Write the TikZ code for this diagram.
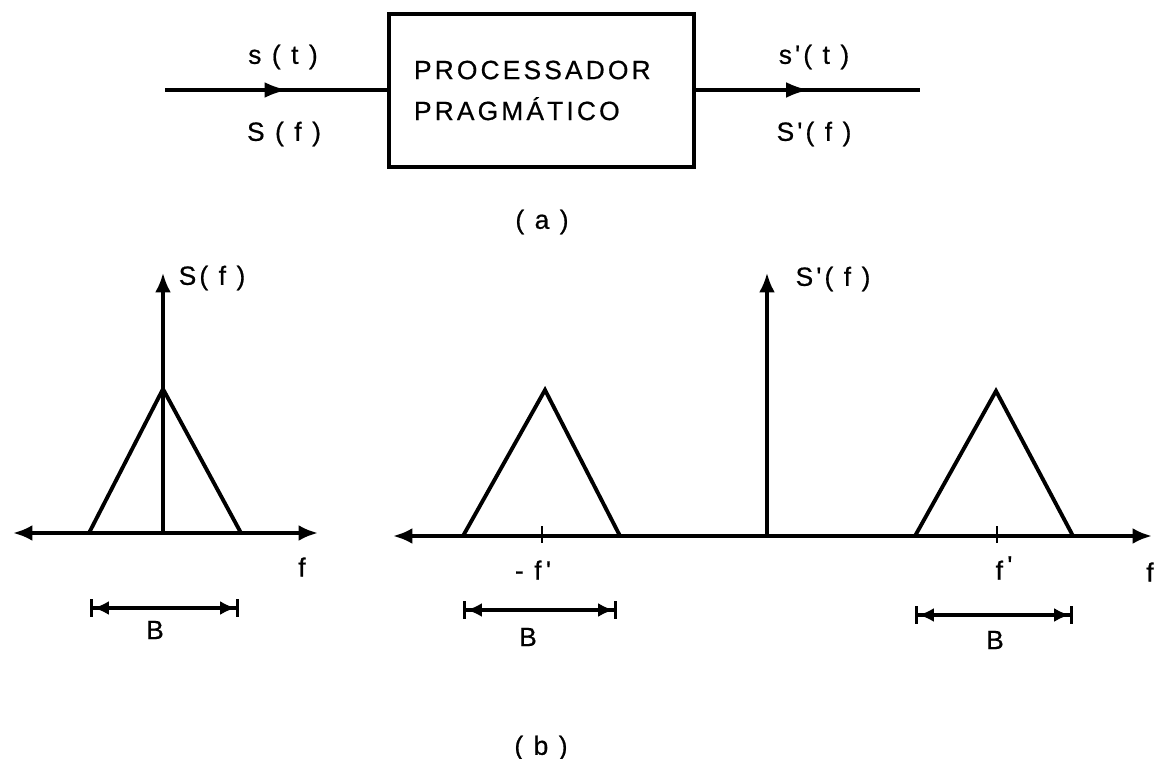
\documentclass[tikz,border=0pt]{standalone}
\usepackage{fontspec}
\setmainfont{Liberation Sans}
\newfontfamily\lettfont[LetterSpace=12,FakeBold=0.6]{Liberation Sans}
\usetikzlibrary{arrows.meta,decorations.markings}
\begin{document}
\begin{tikzpicture}[x=0.02cm,y=-0.02cm,
  lbl/.style={font=\lettfont\fontsize{15}{18}\selectfont, inner sep=0pt},
  ax/.style={line width=2.1pt, {Latex[length=11pt,width=9pt]}-{Latex[length=11pt,width=9pt]}},
  vax/.style={line width=1.8pt, -{Latex[length=11pt,width=9pt]}},
  tri/.style={line width=2.2pt, line join=miter},
  bw/.style={line width=1.8pt, {Bar[width=10pt,line width=1.8pt]Latex[length=9pt,width=8pt]}-{Latex[length=9pt,width=8pt]Bar[width=10pt,line width=1.8pt]}},
  tickmark/.style={line width=1.2pt},
  sigin/.style={line width=1.9pt, decoration={markings, mark=at position 0.55 with {\arrow{Latex[length=13pt,width=9pt]}}}, postaction={decorate}},
  sigout/.style={line width=1.9pt, decoration={markings, mark=at position 0.505 with {\arrow{Latex[length=13pt,width=9pt]}}}, postaction={decorate}},
  procbox/.style={draw, line width=1.8pt, inner xsep=0.5cm, inner ysep=0pt, text width=5.1cm, minimum height=3.06cm, align=left, font=\lettfont\fontsize{15}{23.3}\selectfont},
]
\useasboundingbox (0,0) rectangle (1158,759);

% (a) block diagram
\node[procbox] (proc) at (541.5,90.5) {PROCESSADOR\\PRAGMÁTICO};
\coordinate (in) at (165,90);
\coordinate (out) at (920,90);
\draw[sigin] (in) -- (proc.west |- in);
\draw[sigout] (proc.east |- out) -- (out);
\node[lbl] (st) at (283,57) {s ( t )};
\node[lbl] (Sf) at (284,134) {S ( f )};
\node[lbl] (spt) at (814,57) {s'( t )};
\node[lbl] (Spf) at (814,134) {S'( f )};
\node[lbl] (capa) at (542,222) {( a )};

% (b) left spectrum
\coordinate (lL) at (13,533);
\coordinate (lR) at (318,533);
\coordinate (lO) at (163,533);
\coordinate (lT) at (163,273);
\coordinate (t1a) at (89,533);
\coordinate (t1b) at (163,389);
\coordinate (t1c) at (241,533);
\draw[ax] (lL) -- (lR);
\draw[vax] (lO) -- (lT);
\draw[tri] (t1a) -- (t1b) -- (t1c);
\node[lbl] (lSf) at (212,278) {S( f )};
\node[lbl] (lf) at (302,567) {f};
\coordinate (b1a) at (90,608);
\coordinate (b1b) at (239,608);
\draw[bw] (b1a) -- (b1b);
\node[lbl] (lB) at (155,630) {B};

% (b) right spectrum
\coordinate (rL) at (393,536);
\coordinate (rR) at (1152,536);
\coordinate (rO) at (767,536);
\coordinate (rT) at (767,273);
\draw[ax] (rL) -- (rR);
\draw[vax] (rO) -- (rT);
\node[lbl] (rSf) at (833,279) {S'( f )};
\coordinate (t2a) at (463,536);
\coordinate (t2b) at (545,390);
\coordinate (t2c) at (620,536);
\draw[tri] (t2a) -- (t2b) -- (t2c);
\coordinate (k2a) at (542,526);
\coordinate (k2b) at (542,543);
\draw[tickmark] (k2a) -- (k2b);
\node[lbl] (mfp) at (533,570) {- f\,'};
\coordinate (b2a) at (463,610);
\coordinate (b2b) at (617,610);
\draw[bw] (b2a) -- (b2b);
\node[lbl] (mB) at (528,637) {B};
\coordinate (t3a) at (915,536);
\coordinate (t3b) at (996,391);
\coordinate (t3c) at (1073,536);
\draw[tri] (t3a) -- (t3b) -- (t3c);
\coordinate (k3a) at (997,526);
\coordinate (k3b) at (997,543);
\draw[tickmark] (k3a) -- (k3b);
\node[lbl] (pfp) at (1004,568) {f\,\raisebox{3pt}{'}};
\node[lbl] (rf) at (1150,572) {f};
\coordinate (b3a) at (915,615);
\coordinate (b3b) at (1073,615);
\draw[bw] (b3a) -- (b3b);
\node[lbl] (rB) at (995,640) {B};
\node[lbl] (capb) at (541,748) {( b )};
\end{tikzpicture}
\end{document}
